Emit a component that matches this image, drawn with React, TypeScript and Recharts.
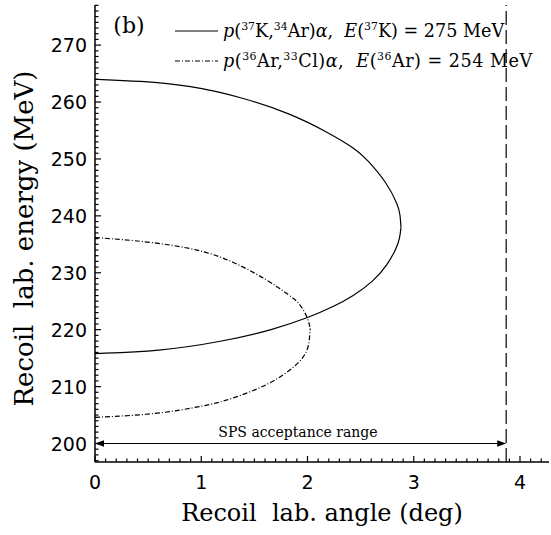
import React from 'react';
import { ComposedChart, Line, XAxis, YAxis, ReferenceLine, ReferenceDot, Legend } from 'recharts';

// Kinematic locus p(37K,34Ar)alpha, E(37K)=275 MeV : two branches meeting at the maximum angle
const solidUpperAngle = [0, 0.42, 0.9, 1.37, 1.84, 2.2, 2.45, 2.557, 2.745, 2.855, 2.872, 2.88];
const solidUpperEnergy = [264.0, 263.7, 262.9, 260.9, 258.0, 254.6, 251.8, 250.0, 245.9, 241.8, 240.2, 238.0];
const solidLowerAngle = [0, 0.6, 1.2, 1.68, 2.02, 2.24, 2.43, 2.62, 2.75, 2.84, 2.868, 2.88];
const solidLowerEnergy = [215.8, 216.2, 217.9, 220.0, 222.2, 224.0, 225.9, 228.5, 231.3, 234.4, 236.0, 238.0];

// Kinematic locus p(36Ar,33Cl)alpha, E(36Ar)=254 MeV
const dashUpperAngle = [0, 0.5, 0.99, 1.3, 1.62, 1.84, 1.93, 2.008, 2.025];
const dashUpperEnergy = [236.2, 235.5, 234.1, 232.0, 228.8, 225.9, 224.6, 221.9, 220.2];
const dashLowerAngle = [0, 0.58, 1.05, 1.21, 1.52, 1.77, 1.99, 2.018, 2.025];
const dashLowerEnergy = [204.6, 205.1, 206.7, 207.4, 209.4, 211.8, 215.3, 218.0, 220.2];

const acceptanceLimit = 3.87;
const acceptanceEnergy = 200;

const xDomain = [0, 4.273];
const yDomain = [196.75, 277.05];
const xTicks = Array.from({ length: 43 }, (_, i) => i / 10);
const yTicks = Array.from({ length: 81 }, (_, i) => 197 + i);

const toData = (xs: number[], ys: number[]) => xs.map((x, i) => ({ x, y: ys[i] }));
const solidUpper = toData(solidUpperAngle, solidUpperEnergy);
const solidLower = toData(solidLowerAngle, solidLowerEnergy);
const dashUpper = toData(dashUpperAngle, dashUpperEnergy);
const dashLower = toData(dashLowerAngle, dashLowerEnergy);

const SERIF = 'DejaVu Serif';
const SANS = 'DejaVu Sans';
const DASHDOT = '5 2 1 2';

const isMajorX = (v: number) => Math.abs(v - Math.round(v)) < 1e-6;
const isMajorY = (v: number) => Math.round(v) % 10 === 0;

const BottomTick = (p: any) => {
  const v = p.payload.value;
  const major = isMajorX(v);
  return (
    <g>
      <line x1={p.x} x2={p.x} y1={p.y} y2={p.y - (major ? 6 : 3.5)} stroke="#000" strokeWidth={1.2} />
      {major && (
        <text x={p.x} y={p.y + 27} textAnchor="middle" fontFamily={SANS} fontSize={19} fill="#000">
          {Math.round(v)}
        </text>
      )}
    </g>
  );
};

const TopTick = (p: any) => {
  const v = p.payload.value;
  const major = isMajorX(v);
  return <line x1={p.x} x2={p.x} y1={p.y} y2={p.y + (major ? 6 : 3.5)} stroke="#000" strokeWidth={1.2} />;
};

const LeftTick = (p: any) => {
  const v = p.payload.value;
  const major = isMajorY(v);
  return (
    <g>
      <line x1={p.x} x2={p.x + (major ? 6 : 3.5)} y1={p.y} y2={p.y} stroke="#000" strokeWidth={1.2} />
      {major && (
        <text x={p.x - 8} y={p.y + 7} textAnchor="end" fontFamily={SANS} fontSize={19} fill="#000">
          {Math.round(v)}
        </text>
      )}
    </g>
  );
};

const RightTick = (p: any) => {
  const v = p.payload.value;
  const major = isMajorY(v);
  return <line x1={p.x} x2={p.x - (major ? 6 : 3.5)} y1={p.y} y2={p.y} stroke="#000" strokeWidth={1.2} />;
};

const xTitle = (props: any) => {
  const vb = props.viewBox;
  return (
    <text x={vb.x + vb.width / 2} y={vb.y + 59} textAnchor="middle" fontFamily={SERIF} fontSize={24} fill="#000">
      Recoil{'\u00a0'} lab. angle (deg)
    </text>
  );
};

const yTitle = (props: any) => {
  const vb = props.viewBox;
  const cx = 33;
  const cy = vb.y + vb.height / 2 + 5;
  return (
    <text x={cx} y={cy} transform={`rotate(-90, ${cx}, ${cy})`} textAnchor="middle" fontFamily={SERIF} fontSize={26} fill="#000">
      Recoil{'\u00a0'} lab. energy (MeV)
    </text>
  );
};

const ArrowShape = (p: any) => {
  const { x1, y1, x2, y2 } = p;
  const L = 9;
  const H = 3.2;
  return (
    <g>
      <line x1={x1 + 2} y1={y1} x2={x2 - 2} y2={y2} stroke="#000" strokeWidth={1.2} />
      <polygon points={`${x1},${y1} ${x1 + L},${y1 - H} ${x1 + L},${y1 + H}`} fill="#000" />
      <polygon points={`${x2},${y2} ${x2 - L},${y2 - H} ${x2 - L},${y2 + H}`} fill="#000" />
    </g>
  );
};

const textLabel = (content: string, size: number, anchor: string) => (props: any) => {
  const vb = props.viewBox;
  return (
    <text x={vb.x} y={vb.y} textAnchor={anchor} fontFamily={SERIF} fontSize={size} fill="#000">
      {content}
    </text>
  );
};

const Sup = ({ children }: any) => (
  <sup style={{ fontSize: '0.62em', verticalAlign: '0.6em', lineHeight: 0 }}>{children}</sup>
);

const legendRows = [
  {
    dash: undefined as string | undefined,
    spacing: 0,
    label: (
      <span>
        <i>p</i>(<Sup>37</Sup>K,<Sup>34</Sup>Ar)<i>α</i>,{'\u00a0'} <i>E</i>(<Sup>37</Sup>K) = 275 MeV
      </span>
    ),
  },
  {
    dash: DASHDOT,
    spacing: 0.5,
    label: (
      <span>
        <i>p</i>(<Sup>36</Sup>Ar,<Sup>33</Sup>Cl)<i>α</i>,{'\u00a0'} <i>E</i>(<Sup>36</Sup>Ar) = 254 MeV
      </span>
    ),
  },
];

const LegendBox = () => (
  <div style={{ fontFamily: SERIF, fontSize: 17.6, color: '#000', whiteSpace: 'nowrap' }}>
    {legendRows.map((r, i) => (
      <div key={i} style={{ display: 'flex', alignItems: 'center', height: 30, letterSpacing: r.spacing }}>
        <svg width={50} height={10} style={{ flex: 'none' }}>
          <line x1={2} y1={5} x2={45} y2={5} stroke="#000" strokeWidth={1.2} strokeDasharray={r.dash} />
        </svg>
        {r.label}
      </div>
    ))}
  </div>
);

const branch = (data: any[], dash?: string, key?: string) => (
  <Line
    key={key}
    data={data}
    dataKey="y"
    type="basis"
    stroke="#000"
    strokeWidth={1.2}
    strokeDasharray={dash}
    dot={false}
    activeDot={false}
    isAnimationActive={false}
    legendType="none"
  />
);

export default function App() {
  return (
    <div style={{ position: 'absolute', left: 0, top: 0, width: 551, height: 535, background: '#fff' }}>
      <ComposedChart width={551} height={535} margin={{ top: 5, right: 2, bottom: 0, left: 0 }}>
        <XAxis
          type="number"
          dataKey="x"
          domain={xDomain}
          allowDataOverflow
          ticks={xTicks}
          interval={0}
          tickLine={false}
          tickSize={0}
          tickMargin={0}
          tick={(p: any) => <BottomTick {...p} />}
          axisLine={{ stroke: '#000', strokeWidth: 1.5 }}
          height={73}
          label={xTitle}
        />
        <XAxis
          xAxisId="top"
          orientation="top"
          type="number"
          dataKey="x"
          domain={xDomain}
          allowDataOverflow
          ticks={xTicks}
          interval={0}
          tickLine={false}
          tickSize={0}
          tickMargin={0}
          tick={(p: any) => <TopTick {...p} />}
          axisLine={{ stroke: '#000', strokeWidth: 1.5 }}
          height={0}
        />
        <YAxis
          type="number"
          domain={yDomain}
          allowDataOverflow
          ticks={yTicks}
          interval={0}
          tickLine={false}
          tickSize={0}
          tickMargin={0}
          tick={(p: any) => <LeftTick {...p} />}
          axisLine={{ stroke: '#000', strokeWidth: 1.5 }}
          width={95}
          label={yTitle}
        />
        <YAxis
          yAxisId="right"
          orientation="right"
          type="number"
          domain={yDomain}
          allowDataOverflow
          ticks={yTicks}
          interval={0}
          tickLine={false}
          tickSize={0}
          tickMargin={0}
          tick={(p: any) => <RightTick {...p} />}
          axisLine={{ stroke: '#000', strokeWidth: 1.5, strokeDasharray: '1.5 1.5' }}
          width={0}
        />
        <ReferenceLine x={acceptanceLimit} stroke="#000" strokeWidth={1.2} strokeDasharray="14 5" />
        <ReferenceLine
          segment={[{ x: 0, y: acceptanceEnergy }, { x: acceptanceLimit, y: acceptanceEnergy }]}
          shape={(p: any) => <ArrowShape {...p} />}
        />
        <ReferenceDot x={1.91} y={201.1} r={0} fill="none" stroke="none" label={textLabel('SPS acceptance range', 14, 'middle')} />
        <ReferenceDot x={0.32} y={272.1} r={0} fill="none" stroke="none" label={textLabel('(b)', 22, 'middle')} />
        {branch(solidUpper, undefined, 'su')}
        {branch(solidLower, undefined, 'sl')}
        {branch(dashUpper, DASHDOT, 'du')}
        {branch(dashLower, DASHDOT, 'dl')}
        <Legend
          layout="horizontal"
          verticalAlign="middle"
          align="center"
          content={() => <LegendBox />}
          wrapperStyle={{ left: 173, top: 16, width: 380 }}
        />
      </ComposedChart>
    </div>
  );
}
